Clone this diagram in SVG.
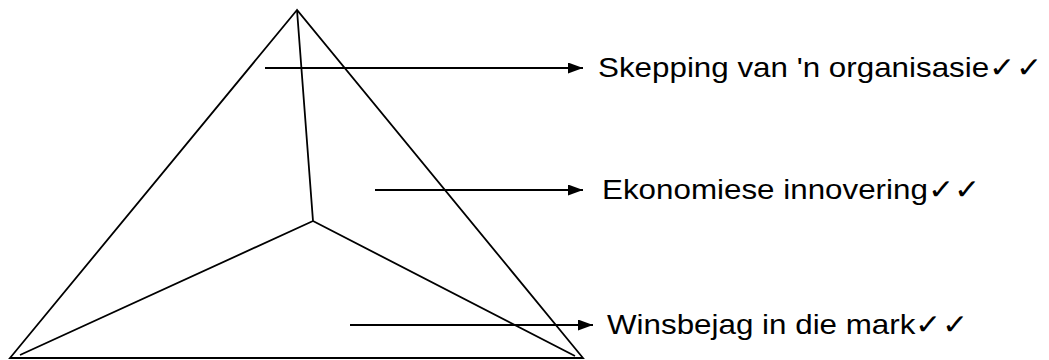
<svg xmlns="http://www.w3.org/2000/svg" width="1049" height="360" viewBox="0 0 1049 360">
<style>
.ln{stroke:#000;stroke-width:1.8;fill:none}
.ar{stroke:#000;stroke-width:1.8;fill:none;marker-end:url(#ah)}
.t{font-family:"Liberation Sans",Arial,sans-serif;font-size:28px;fill:#000}
</style>
<defs>
<marker id="ah" markerWidth="15" markerHeight="11" refX="15" refY="5.5" orient="auto" markerUnits="userSpaceOnUse">
<path d="M0,0 L15,5.5 L0,11 Z" fill="#000"/>
</marker>
</defs>
<rect width="1049" height="360" fill="#fff"/>
<g id="pyramid">
<path class="ln" d="M297,10 L10,358 L583,358 Z"/>
<path class="ln" d="M297,10 L313,221 M313,221 L20,355 M313,221 L575,356"/>
</g>
<g id="connectors">
<line class="ar" x1="265" y1="68" x2="583" y2="68"/>
<line class="ar" x1="375" y1="190" x2="583" y2="190"/>
<line class="ar" x1="350" y1="325" x2="593" y2="325"/>
</g>
<g id="label1"><text class="t" transform="translate(598,77) scale(1.12,1)">Skepping van 'n organisasie✓✓</text></g>
<g id="label2"><text class="t" transform="translate(602,199) scale(1.12,1)">Ekonomiese innovering✓✓</text></g>
<g id="label3"><text class="t" transform="translate(607,334) scale(1.12,1)">Winsbejag in die mark✓✓</text></g>
</svg>
